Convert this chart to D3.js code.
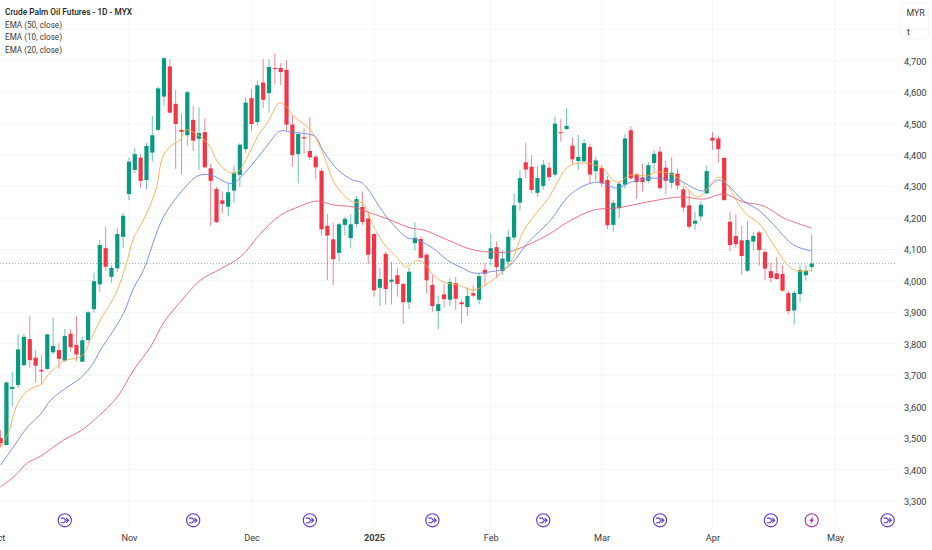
<!DOCTYPE html>
<html><head><meta charset="utf-8">
<script src="https://cdn.jsdelivr.net/npm/d3@7"></script>
<style>html,body{margin:0;padding:0;background:#fff}svg{display:block}text{font-family:Roboto,sans-serif}</style>
</head><body><div id="c"></div>
<script>
const title = "Crude Palm Oil Futures - 1D - MYX";
const legendLabels = ["EMA (50, close)","EMA (10, close)","EMA (20, close)"];
const priceTicks = [3300,3400,3500,3600,3700,3800,3900,4000,4100,4200,4300,4400,4500,4600,4700];
const gridOnly = [4800];
const monthLabels = ["Oct","Nov","Dec","2025","Feb","Mar","Apr","May"];
const monthIndex = [-0.5,22,43,64,84,103,122,143];
const eventIndex = [11,33,53,74,93,113,132,152];
const earningsIndex = [139];
const lastPrice = 4055;
const opens = [3500,3478,3656,3669,3732,3815,3756,3717,3720,3773,3780,3746,3832,3796,3743,3812,3910,3989,4104,4013,4040,4140,4276,4353,4392,4321,4408,4480,4586,4682,4563,4480,4463,4512,4452,4473,4358,4292,4256,4236,4287,4337,4419,4581,4505,4631,4597,4677,4677,4671,4497,4403,4457,4413,4395,4350,4175,4132,4089,4178,4136,4181,4235,4198,4149,3978,4086,3997,4018,3990,3932,4120,4133,4083,3987,3904,3957,3940,3993,3932,3917,3961,3940,4035,4070,4107,4031,4061,4138,4249,4377,4363,4280,4302,4360,4338,4473,4483,4430,4381,4380,4426,4349,4359,4321,4178,4231,4306,4479,4339,4329,4318,4375,4411,4360,4312,4341,4291,4240,4182,4205,4278,4455,4453,4391,4188,4143,4129,4032,4125,4154,4092,4031,4024,4022,3961,3906,3958,4018,4044];
const highs = [3526,3679,3710,3831,3831,3888,3780,3764,3831,3883,3802,3847,3847,3888,3822,3904,4026,4130,4172,4050,4169,4216,4392,4422,4403,4438,4524,4617,4711,4705,4607,4531,4605,4556,4552,4517,4372,4299,4284,4310,4366,4438,4584,4609,4636,4705,4705,4724,4692,4702,4527,4471,4485,4521,4400,4358,4212,4185,4184,4204,4212,4270,4284,4220,4152,4040,4092,4061,4043,3993,4043,4186,4140,4089,4019,3952,3990,4008,4013,3939,3980,3987,4026,4056,4151,4125,4098,4162,4278,4353,4439,4400,4366,4384,4377,4522,4514,4549,4457,4464,4450,4437,4395,4366,4334,4257,4315,4467,4493,4343,4372,4378,4416,4427,4381,4394,4357,4302,4289,4220,4254,4365,4473,4462,4394,4220,4212,4175,4190,4156,4159,4100,4058,4075,4050,3969,3968,4051,4051,4147];
const lows = [3472,3478,3602,3659,3729,3723,3676,3672,3717,3767,3720,3742,3774,3745,3742,3803,3899,3966,4031,3994,4028,4105,4257,4343,4296,4292,4379,4477,4556,4534,4356,4339,4429,4413,4353,4359,4175,4184,4215,4206,4249,4299,4406,4478,4493,4550,4535,4626,4623,4478,4363,4310,4403,4384,4324,4144,4003,3987,4061,4144,4105,4170,4178,4054,3950,3920,3925,3925,3950,3863,3911,4096,4070,3960,3902,3846,3915,3920,3907,3865,3888,3949,3926,3987,4048,4008,4019,4050,4130,4223,4327,4278,4268,4291,4318,4331,4443,4480,4372,4353,4378,4310,4318,4299,4164,4156,4199,4294,4321,4261,4284,4311,4347,4289,4276,4294,4292,4217,4164,4162,4191,4276,4416,4376,4254,4095,4107,4019,4029,4096,4048,4003,3995,4003,3966,3895,3861,3932,4001,4029];
const closes = [3484,3677,3663,3782,3822,3748,3730,3712,3830,3793,3752,3825,3789,3766,3811,3900,3999,4114,4045,4041,4149,4207,4379,4403,4318,4429,4463,4612,4708,4535,4499,4474,4600,4446,4470,4361,4318,4187,4245,4282,4344,4433,4567,4499,4622,4576,4680,4675,4664,4497,4400,4467,4453,4393,4361,4164,4144,4069,4180,4197,4180,4260,4187,4083,3970,4006,3974,4004,3990,3932,4029,4137,4073,4002,3920,3926,3942,3996,3943,3926,3952,3953,4015,4023,4104,4044,4071,4140,4240,4327,4354,4289,4327,4369,4330,4500,4471,4493,4387,4394,4438,4338,4383,4310,4177,4248,4309,4453,4326,4314,4314,4368,4404,4295,4318,4344,4303,4233,4172,4191,4242,4349,4446,4419,4257,4114,4117,4079,4130,4143,4098,4039,4009,4006,3969,3904,3962,4034,4032,4055];
const ema10Index = [0,1.4,2.6,3.9,5.1,7,8.1,9.4,10.8,12.9,14.1,15.4,17.1,18.9,20,21.4,22.8,24.5,26.6,27.9,29.6,30.8,31.7,35.5,37.2,39.4,40.6,42.3,44,45.8,47.8,49,50.2,53.1,55.2,57.1,58.8,60.3,62,63.8,65.6,68,69.4,71.1,72.3,74.2,75.9,78.3,81.1,83.1,85.2,87.4,89.5,91.3,93.9,97.2,99.4,102,103.2,104.9,105.9,108,110.9,112.3,114.8,116.5,117.9,119.6,121.2,123,124.6,126.3,128,129.9,132.5,134.9,136.6,139];
const ema10Values = [3469,3520,3596,3637,3656,3672,3701,3723,3745,3755,3764,3812,3876,3930,3971,4044,4136,4194,4289,4400,4435,4448,4480,4438,4378,4343,4346,4394,4458,4505,4566,4553,4524,4480,4407,4314,4273,4251,4248,4178,4120,4073,4044,4063,4060,4019,3996,3987,3971,3987,4016,4057,4155,4203,4264,4362,4375,4368,4359,4321,4314,4337,4334,4346,4340,4321,4289,4267,4295,4330,4305,4248,4209,4184,4114,4050,4031,4035];
const ema20Index = [0,2.2,4.6,6.9,8.6,11.5,13.7,15.9,17.1,19.4,21.1,22.8,24.5,27.9,31.7,33.8,36,38.9,39.9,42.3,45.1,48,49.7,52.6,54,55.2,57.8,60.3,62,66.3,69.8,71.1,74,76.6,78.8,81.1,83.6,86.9,90.3,94.3,97.2,99.9,102.5,105.7,108,111.9,114.8,116.5,118.8,120.5,123,124.6,127.3,129.9,132.5,135.9,139];
const ema20Values = [3414,3472,3535,3577,3621,3663,3691,3739,3780,3844,3898,3977,4035,4203,4299,4334,4337,4311,4311,4353,4416,4477,4473,4467,4458,4416,4353,4321,4311,4200,4136,4133,4105,4066,4044,4025,4028,4044,4120,4194,4267,4302,4314,4295,4314,4327,4321,4318,4295,4286,4321,4305,4254,4225,4178,4114,4095];
const ema50Index = [0,2.2,4.6,6.9,10.8,13.7,16.6,20,22.8,25.7,27.9,31.4,34.3,37.7,41.1,44.6,48,51.4,54.3,57.1,60.5,62.9,66.3,70.3,72.5,76.6,80.5,83.6,86.9,90.3,94.3,97.2,101.6,105.7,110.9,116.5,120.5,123.9,127.3,130.8,134.2,139];
const ema50Values = [3345,3376,3421,3443,3494,3523,3567,3631,3717,3790,3866,3946,4003,4038,4076,4152,4209,4238,4254,4241,4235,4219,4197,4168,4162,4130,4101,4092,4092,4114,4152,4187,4225,4232,4251,4267,4260,4276,4251,4238,4200,4168];

const W = 932, H = 550, plotRight = 897, axisTop = 29.3, axisBottom = 501;
const UP = "#089981", DOWN = "#f23645", EVENT = "#5b35d5", BOLT = "#a52fb0", INK = "#3a3a3a";
const svg = d3.select("#c").append("svg").attr("width",W).attr("height",H).attr("viewBox",`0 0 ${W} ${H}`);
const x = d3.scaleLinear().domain([0,139]).range([0.6,811.7]);
const y = d3.scaleLinear().domain([3300,4800]).range([axisBottom,axisTop]);

// grid
const grid = svg.append("g").attr("stroke","#f4f5f6").attr("stroke-width",1);
grid.selectAll("line.h").data(priceTicks.concat(gridOnly)).join("line").attr("class","h")
  .attr("x1",0).attr("x2",plotRight).attr("y1",d=>y(d)).attr("y2",d=>y(d));
grid.selectAll("line.v").data(monthIndex).join("line").attr("class","v")
  .attr("x1",d=>x(d)).attr("x2",d=>x(d)).attr("y1",0).attr("y2",axisBottom+27);

// right axis
const yAxis = d3.axisRight(y).tickValues(priceTicks).tickFormat(d3.format(",")).tickSize(0).tickPadding(0);
const gy = svg.append("g").attr("transform",`translate(904,0.5)`).call(yAxis);
gy.select(".domain").remove();
gy.selectAll("text").attr("font-size",9.2).attr("fill",INK).attr("font-family","Roboto, sans-serif");

// bottom axis
const xAxis = d3.axisBottom(x).tickValues(monthIndex).tickFormat((d,i)=>monthLabels[i]).tickSize(0).tickPadding(0);
const gx = svg.append("g").attr("transform",`translate(0,534)`).call(xAxis);
gx.select(".domain").remove();
gx.selectAll("text").attr("font-size",9.2).attr("fill",INK).attr("font-family","Roboto, sans-serif")
  .attr("font-weight",(d,i)=>monthLabels[i]==="2025"?700:400);

// last price line
svg.append("line").attr("x1",0).attr("x2",plotRight).attr("y1",y(lastPrice)).attr("y2",y(lastPrice))
  .attr("stroke","#5f8f84").attr("stroke-opacity",.7).attr("stroke-dasharray","1 2");

// candles
const candles = d3.range(opens.length);
const bodyW = 4.2;
svg.append("g").selectAll("line").data(candles).join("line")
  .attr("x1",i=>x(i)).attr("x2",i=>x(i)).attr("y1",i=>y(highs[i])).attr("y2",i=>y(lows[i]))
  .attr("stroke",i=>closes[i]>=opens[i]?UP:DOWN).attr("stroke-width",1).attr("stroke-opacity",.6);
svg.append("g").selectAll("rect").data(candles).join("rect")
  .attr("x",i=>x(i)-bodyW/2).attr("width",bodyW)
  .attr("y",i=>y(Math.max(opens[i],closes[i])))
  .attr("height",i=>Math.max(1,Math.abs(y(opens[i])-y(closes[i]))))
  .attr("fill",i=>closes[i]>=opens[i]?UP:DOWN);

// EMAs
function ema(idx,vals,color){
  const pts = idx.map((d,i)=>[d,vals[i]]);
  svg.append("path").datum(pts).attr("fill","none").attr("stroke",color).attr("stroke-width",1)
    .attr("stroke-opacity",.9).attr("stroke-linejoin","round")
    .attr("d",d3.line().x(d=>x(d[0])).y(d=>y(d[1])).curve(d3.curveCatmullRom.alpha(0.5)));
}
ema(ema50Index,ema50Values,"#ea6278");
ema(ema20Index,ema20Values,"#6a88e8");
ema(ema10Index,ema10Values,"#f6ad4e");

// event marks
const iconY = 520.3;
const ev = svg.append("g").selectAll("g").data(eventIndex).join("g")
  .attr("transform",d=>`translate(${x(d)},${iconY})`).attr("fill","none").attr("stroke",EVENT).attr("stroke-width",1.1);
ev.append("circle").attr("r",6.6);
ev.append("path").attr("d","M-3.6-2.2 L-1-2.2 L1.2 0 L3.6 0 M1.8-2 L3.8 0 L1.8 2 M-3.6 2.4 L-0.8 2.4 L.6 .6").attr("stroke-linecap","round");
const bo = svg.append("g").selectAll("g").data(earningsIndex).join("g")
  .attr("transform",d=>`translate(${x(d)},${iconY})`);
bo.append("circle").attr("r",6.6).attr("fill","none").attr("stroke",BOLT).attr("stroke-width",1.1);
bo.append("path").attr("d","M1.2-4 L-2.4 .8 L-.4 .8 L-1.2 4 L2.4-.9 L.4-.9 Z").attr("fill",BOLT);

// legend
const legend = svg.append("g").attr("font-size",9.4).attr("fill",INK);
legend.append("text").attr("x",5).attr("y",15.2).attr("font-weight",500).attr("fill","#222")
  .attr("textLength",127).attr("lengthAdjust","spacingAndGlyphs").text(title);
legend.selectAll("text.l").data(legendLabels).join("text").attr("class","l")
  .attr("x",5).attr("y",(d,i)=>27.7+12.4*i).attr("textLength",57).attr("lengthAdjust","spacingAndGlyphs").text(d=>d);

// currency box
svg.append("rect").attr("x",900.5).attr("y",3).attr("width",28).attr("height",36).attr("rx",4)
  .attr("fill","#fff").attr("stroke","#f3f4f5");
svg.append("line").attr("x1",900.5).attr("x2",928.5).attr("y1",y(4800)).attr("y2",y(4800)).attr("stroke","#f3f4f5");
svg.append("text").attr("x",906.5).attr("y",15.5).attr("font-size",8.8).attr("fill",INK).text("MYR");
svg.append("text").attr("x",907).attr("y",34.5).attr("font-size",8.8).attr("fill",INK).text("t");
</script></body></html>
